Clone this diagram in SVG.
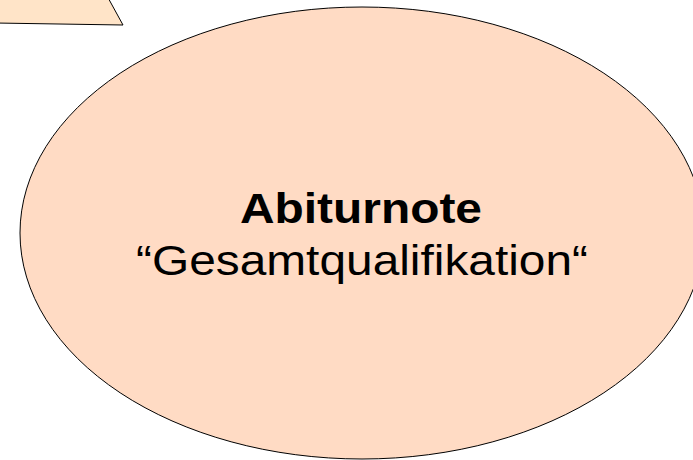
<svg xmlns="http://www.w3.org/2000/svg" width="693" height="460" viewBox="0 0 693 460">
<style>
.shape{stroke:#000;stroke-width:1}
.t{font-family:"Liberation Sans",Arial,sans-serif;font-size:42px;fill:#000;text-anchor:middle}
.b{font-weight:bold}
</style>
<rect width="693" height="460" fill="#fff"/>
<g id="callout-tail">
<polygon class="shape" points="-5,23 123,25 106,-6 -5,-6" fill="#FFE4C8"/>
</g>
<g id="abiturnote">
<ellipse class="shape" cx="362" cy="233" rx="342" ry="226" fill="#FFDBC4"/>
<text class="t b" x="361" y="223" textLength="242" lengthAdjust="spacingAndGlyphs">Abiturnote</text>
<text class="t" x="362" y="275" textLength="452" lengthAdjust="spacingAndGlyphs">“Gesamtqualifikation“</text>
</g>
<g id="connectors"/>
</svg>
